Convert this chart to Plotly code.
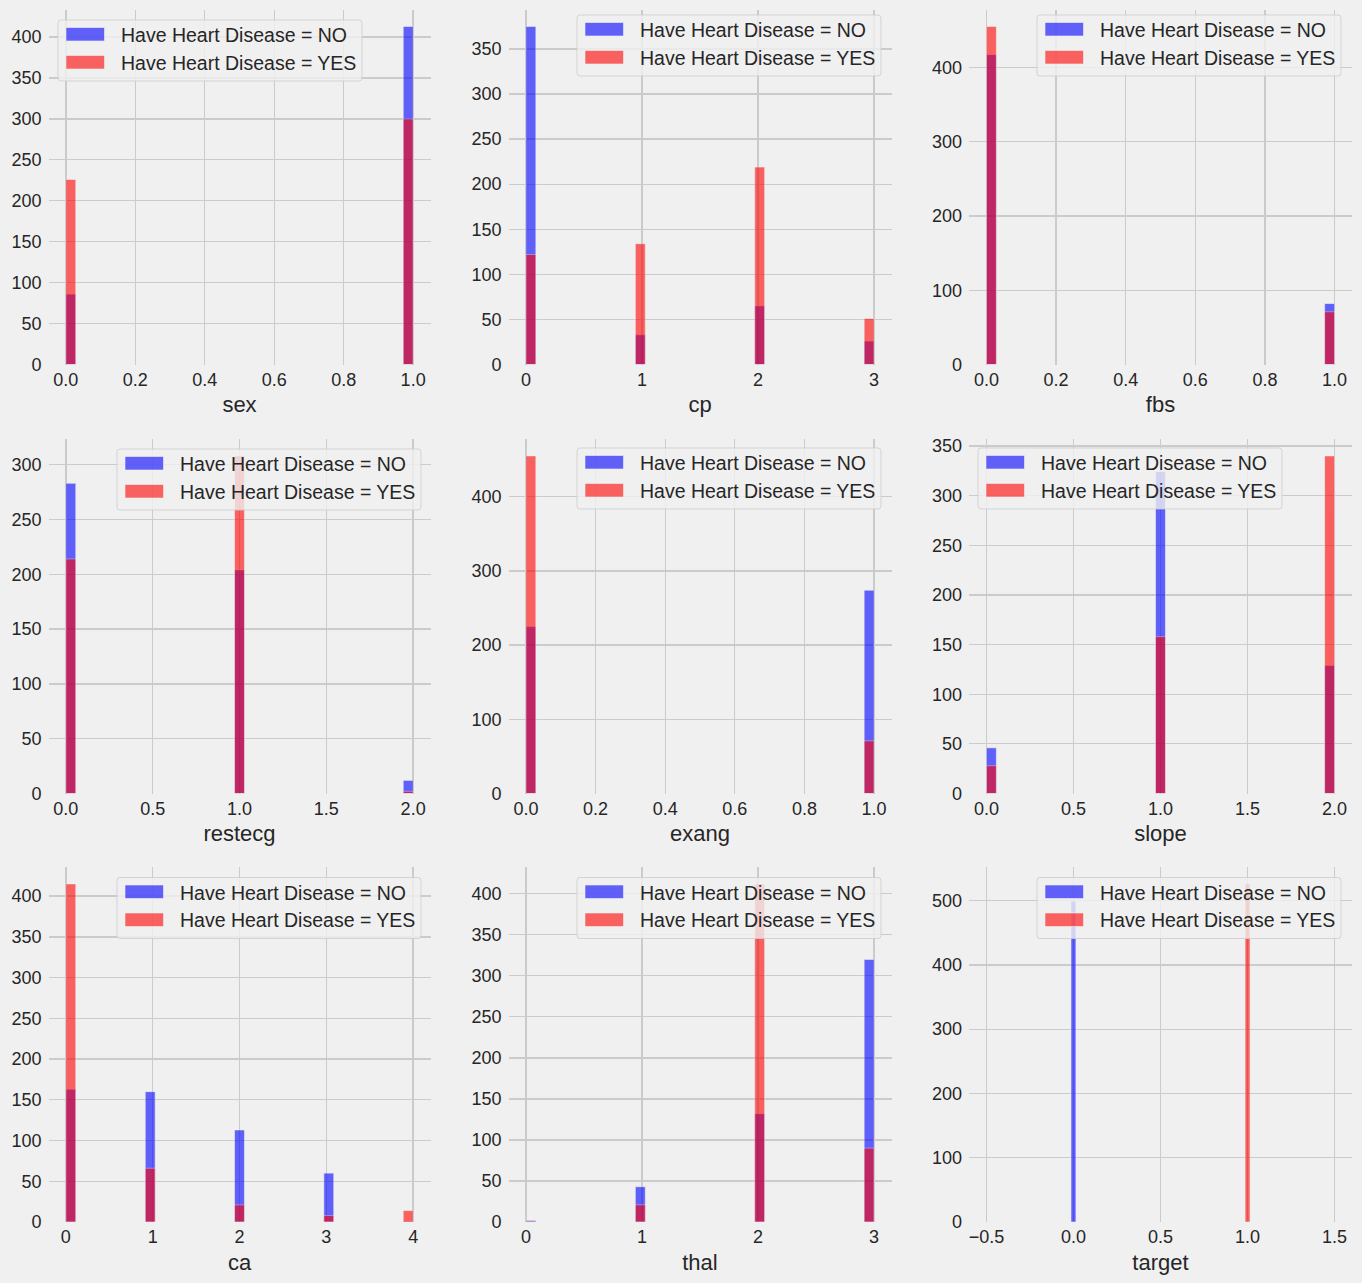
import numpy as np
import plotly.graph_objects as go

# ---------------- data (counts per category value) ----------------
features = ["sex", "cp", "fbs", "restecg", "exang", "slope", "ca", "thal", "target"]

sex_cats = [0, 1]
sex_no = [86, 413]
sex_yes = [226, 300]

cp_cats = [0, 1, 2, 3]
cp_no = [375, 33, 65, 26]
cp_yes = [122, 134, 219, 51]

fbs_cats = [0, 1]
fbs_no = [417, 82]
fbs_yes = [455, 71]

restecg_cats = [0, 1, 2]
restecg_no = [283, 204, 12]
restecg_yes = [214, 308, 2]

exang_cats = [0, 1]
exang_no = [225, 274]
exang_yes = [455, 71]

slope_cats = [0, 1, 2]
slope_no = [46, 324, 129]
slope_yes = [28, 158, 340]

ca_cats = [0, 1, 2, 3, 4]
ca_no = [163, 160, 113, 60, 1]
ca_yes = [415, 66, 21, 8, 14]

thal_cats = [0, 1, 2, 3]
thal_no = [2, 43, 132, 320]
thal_yes = [1, 21, 412, 90]

target_cats = [0, 1]
target_no = [499, 0]
target_yes = [0, 526]

series_labels = ["Have Heart Disease = NO", "Have Heart Disease = YES"]

data = {
    "sex": (sex_cats, sex_no, sex_yes),
    "cp": (cp_cats, cp_no, cp_yes),
    "fbs": (fbs_cats, fbs_no, fbs_yes),
    "restecg": (restecg_cats, restecg_no, restecg_yes),
    "exang": (exang_cats, exang_no, exang_yes),
    "slope": (slope_cats, slope_no, slope_yes),
    "ca": (ca_cats, ca_no, ca_yes),
    "thal": (thal_cats, thal_no, thal_yes),
    "target": (target_cats, target_no, target_yes),
}

# ---------------- styling ----------------
W, H = 1362, 1283
BG = "#f0f0f0"
GRID = "#cbcbcb"
TXT = "#262626"
FONT = "Liberation Sans, Arial, sans-serif"
colors = ["blue", "red"]
patch_fill = ["rgba(0,0,255,0.6)", "rgba(255,0,0,0.6)"]

col_px = [(48.5, 430.5), (508.5, 891.5), (969, 1352)]
row_px = [(9.5, 364.5), (439, 793.5), (867, 1222)]
x_dtick = {"sex": 0.2, "cp": 1, "fbs": 0.2, "restecg": 0.5, "exang": 0.2,
           "slope": 0.5, "ca": 1, "thal": 1, "target": 0.5}
y_dtick = {"sex": 50, "cp": 50, "fbs": 100, "restecg": 50, "exang": 100,
           "slope": 50, "ca": 50, "thal": 50, "target": 100}
legend_px = {"sex": (58, 20), "cp": (577, 15), "fbs": (1037, 15),
             "restecg": (117, 449), "exang": (577, 448), "slope": (978, 448),
             "ca": (117, 877.5), "thal": (577, 877.5), "target": (1037, 877.5)}
LEG_W, LEG_H = 304, 61


def px(x):
    return x / W


def py(y):
    return 1 - y / H


def rounded_rect(x0, y0, x1, y1, r=3):
    """SVG path (paper coords) of a rounded rectangle given pixel corners."""
    pts = [
        ("M", px(x0 + r), py(y0)), ("L", px(x1 - r), py(y0)),
        ("Q", px(x1), py(y0), px(x1), py(y0 + r)), ("L", px(x1), py(y1 - r)),
        ("Q", px(x1), py(y1), px(x1 - r), py(y1)), ("L", px(x0 + r), py(y1)),
        ("Q", px(x0), py(y1), px(x0), py(y1 - r)), ("L", px(x0), py(y0 + r)),
        ("Q", px(x0), py(y0), px(x0 + r), py(y0)),
    ]
    out = []
    for p in pts:
        cmd, vals = p[0], p[1:]
        coords = " ".join(f"{vals[j]:.6f},{vals[j + 1]:.6f}" for j in range(0, len(vals), 2))
        out.append(f"{cmd} {coords}")
    return " ".join(out) + " Z"


fig = go.Figure()
shapes, annotations = [], []
layout = dict(
    width=W, height=H,
    margin=dict(l=0, r=0, t=0, b=0),
    paper_bgcolor=BG, plot_bgcolor=BG,
    barmode="overlay", showlegend=False,
    font=dict(family=FONT, color=TXT, size=18),
)

for i, feat in enumerate(features):
    r, c = divmod(i, 3)
    cats, no_counts, yes_counts = data[feat]
    sfx = "" if i == 0 else str(i + 1)
    lo, hi, ymax = np.inf, -np.inf, 0
    for k, counts in enumerate([no_counts, yes_counts]):
        vals = np.repeat(np.array(cats, dtype=float), counts)
        h, edges = np.histogram(vals, bins=35)
        lo, hi = min(lo, edges[0]), max(hi, edges[-1])
        ymax = max(ymax, h.max())
        m = h > 0
        fig.add_trace(go.Bar(
            x=edges[:-1][m], y=h[m], width=np.diff(edges)[m], offset=0,
            name=series_labels[k], opacity=0.6,
            marker=dict(color=colors[k], line=dict(color=BG, width=0.6)),
            xaxis="x" + sfx, yaxis="y" + sfx, hoverinfo="skip",
        ))
    pad = (hi - lo) * 0.05
    x0, x1 = col_px[c]
    y0, y1 = row_px[r]
    fractional = x_dtick[feat] < 1
    layout["xaxis" + sfx] = dict(
        domain=[px(x0), px(x1)], anchor="y" + sfx, range=[lo - pad, hi + pad],
        dtick=x_dtick[feat], tick0=0, tickformat=".1f" if fractional else "d",
        showgrid=True, gridcolor=GRID, gridwidth=1.3, zeroline=False,
        showline=False, ticks="", tickfont=dict(size=18, color=TXT),
        ticklabelstandoff=2,
        title=dict(text=feat, font=dict(size=22, color=TXT), standoff=8),
        automargin=False, fixedrange=True,
    )
    layout["yaxis" + sfx] = dict(
        domain=[py(y1), py(y0)], anchor="x" + sfx, range=[0, ymax * 1.05],
        dtick=y_dtick[feat], tick0=0,
        showgrid=True, gridcolor=GRID, gridwidth=1.3, zeroline=False,
        showline=False, ticks="", tickfont=dict(size=18, color=TXT),
        ticklabelstandoff=6, automargin=False, fixedrange=True,
    )

    # legend box (matplotlib-style, semi-transparent rounded frame)
    lx, ly = legend_px[feat]
    shapes.append(dict(
        type="path", xref="paper", yref="paper", layer="above",
        path=rounded_rect(lx, ly, lx + LEG_W, ly + LEG_H, 3),
        fillcolor="rgba(240,240,240,0.8)",
        line=dict(color="rgba(204,204,204,0.8)", width=1),
    ))
    for k in range(2):
        top = ly + 7.5 + k * 28
        shapes.append(dict(
            type="rect", xref="paper", yref="paper", layer="above",
            x0=px(lx + 8), x1=px(lx + 46.5), y0=py(top + 13.5), y1=py(top),
            fillcolor=patch_fill[k],
            line=dict(color="rgba(240,240,240,0.6)", width=1),
        ))
        annotations.append(dict(
            xref="paper", yref="paper", x=px(lx + 61), y=py(ly + 15 + k * 27.7),
            xanchor="left", yanchor="middle", showarrow=False,
            text=series_labels[k], font=dict(size=19.5, color=TXT, family=FONT),
        ))

layout["shapes"] = shapes
layout["annotations"] = annotations
fig.update_layout(**layout)
fig.write_html(
    "out.html",
    config={"displayModeBar": False, "staticPlot": True},
    post_script="document.body.style.margin='0';document.body.style.background='#f0f0f0';",
)
